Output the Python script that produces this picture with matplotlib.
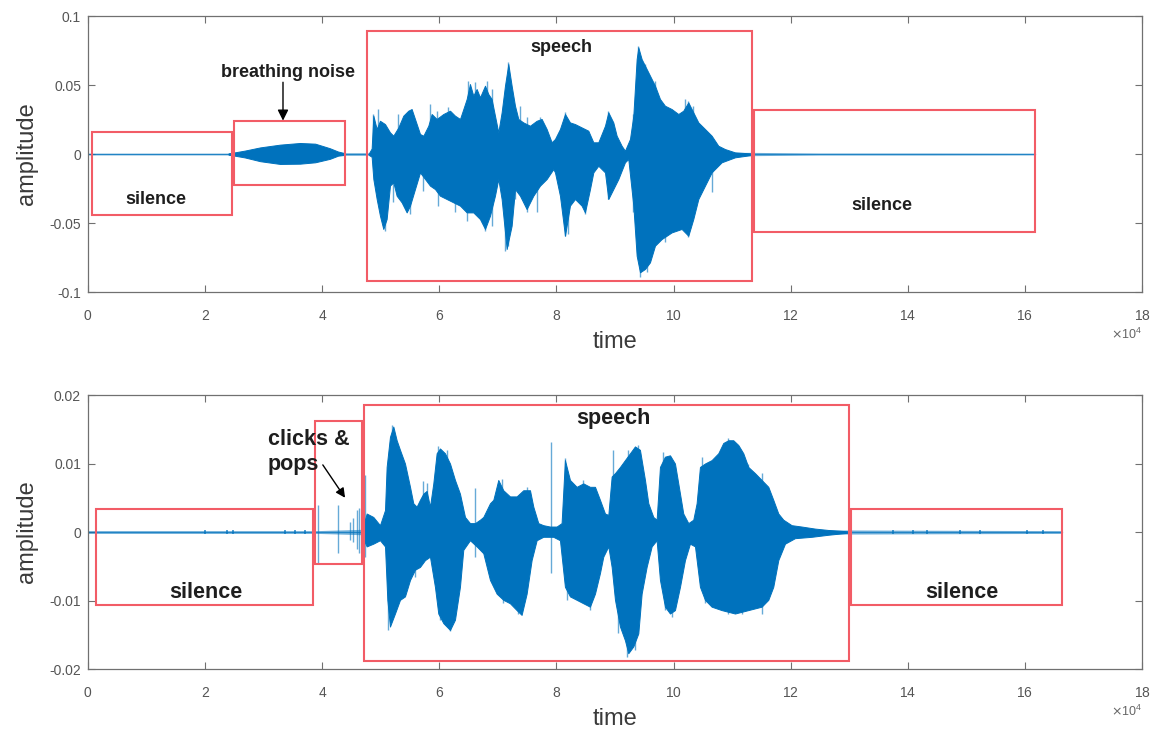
import numpy as np
import matplotlib
matplotlib.use("Agg")
import matplotlib.pyplot as plt
from matplotlib.patches import Rectangle
from matplotlib.ticker import ScalarFormatter, FormatStrFormatter

plt.rcParams["font.family"] = ["Liberation Sans", "DejaVu Sans"]
plt.rcParams["axes.unicode_minus"] = False

SCALE = 1e4  # sample positions below are given in units of 10^4 samples
WAVE = "#0072BD"
BOX = "#F25C66"
INK = "#1e1e1e"
AXIS_GREY = "#707070"

# ---------------- recording 1: breathing noise + speech ----------------
top_floor_x = [0.0, 2.4, 4.4, 4.8, 11.34, 12.5, 14.5, 16.17]
top_floor_amp = [0.0006, 0.0006, 0.0009, 0.0009, 0.0012, 0.0007, 0.0007, 0.0006]

top_breath_x = [2.40, 2.48, 2.68, 2.94, 3.28, 3.62, 3.88, 4.13, 4.27, 4.39]
top_breath_hi = [0.0005, 0.0010, 0.0025, 0.0048, 0.0068, 0.0080, 0.0075, 0.0042, 0.0018, 0.0006]
top_breath_lo = [-0.0005, -0.0010, -0.0025, -0.0052, -0.0072, -0.0070, -0.0060, -0.0035, -0.0012, -0.0006]

top_up_x = [4.800, 4.844, 4.873, 4.930, 4.986, 5.072, 5.157, 5.214, 5.300, 5.385, 5.470, 5.527,
            5.584, 5.670, 5.727, 5.812, 5.869, 5.954, 6.068, 6.182, 6.267, 6.353, 6.410, 6.467,
            6.523, 6.580, 6.637, 6.694, 6.780, 6.836, 6.893, 6.950, 7.007, 7.064, 7.121, 7.178,
            7.235, 7.292, 7.349, 7.434, 7.548, 7.662, 7.747, 7.833, 7.918, 7.975, 8.060, 8.146,
            8.231, 8.317, 8.430, 8.544, 8.630, 8.715, 8.829, 8.886, 8.971, 9.028, 9.113, 9.170,
            9.256, 9.313, 9.370, 9.398, 9.455, 9.512, 9.597, 9.683, 9.768, 9.853, 9.967, 10.081,
            10.166, 10.252, 10.337, 10.423, 10.537, 10.650, 10.764, 10.878, 11.049, 11.333]
top_up = [0.0008, 0.0040, 0.0278, 0.0181, 0.0241, 0.0217, 0.0157, 0.0133, 0.0193, 0.0278, 0.0314, 0.0326,
          0.0254, 0.0145, 0.0133, 0.0205, 0.0290, 0.0254, 0.0290, 0.0314, 0.0278, 0.0254, 0.0326, 0.0399,
          0.0507, 0.0423, 0.0471, 0.0411, 0.0495, 0.0435, 0.0399, 0.0278, 0.0157, 0.0302, 0.0495, 0.0652,
          0.0495, 0.0350, 0.0254, 0.0229, 0.0205, 0.0241, 0.0254, 0.0181, 0.0085, 0.0109, 0.0181, 0.0290,
          0.0229, 0.0217, 0.0193, 0.0169, 0.0085, 0.0085, 0.0205, 0.0302, 0.0229, 0.0133, 0.0060, 0.0024,
          0.0109, 0.0278, 0.0688, 0.0773, 0.0688, 0.0640, 0.0568, 0.0495, 0.0399, 0.0350, 0.0326, 0.0290,
          0.0314, 0.0374, 0.0302, 0.0229, 0.0181, 0.0133, 0.0060, 0.0036, 0.0012, 0.0004]

top_lo_x = [4.800, 4.844, 4.873, 4.930, 4.986, 5.043, 5.100, 5.157, 5.214, 5.271, 5.356, 5.442,
            5.499, 5.584, 5.670, 5.755, 5.840, 5.926, 6.011, 6.125, 6.239, 6.353, 6.467, 6.580,
            6.694, 6.780, 6.865, 6.950, 7.007, 7.064, 7.150, 7.235, 7.292, 7.377, 7.491, 7.605,
            7.719, 7.833, 7.947, 7.975, 8.060, 8.146, 8.231, 8.317, 8.430, 8.487, 8.573, 8.630,
            8.715, 8.829, 8.886, 8.971, 9.057, 9.170, 9.227, 9.313, 9.370, 9.427, 9.512, 9.597,
            9.683, 9.797, 9.967, 10.138, 10.252, 10.337, 10.423, 10.537, 10.650, 10.821, 11.049, 11.333]
top_lo = [-0.0008, -0.0020, -0.0181, -0.0326, -0.0447, -0.0543, -0.0471, -0.0229, -0.0205, -0.0302, -0.0350, -0.0423,
          -0.0374, -0.0254, -0.0133, -0.0181, -0.0229, -0.0254, -0.0302, -0.0326, -0.0350, -0.0374, -0.0423, -0.0423,
          -0.0471, -0.0543, -0.0447, -0.0302, -0.0181, -0.0326, -0.0688, -0.0519, -0.0254, -0.0302, -0.0399, -0.0302,
          -0.0229, -0.0181, -0.0109, -0.0133, -0.0302, -0.0592, -0.0374, -0.0326, -0.0374, -0.0423, -0.0254, -0.0133,
          -0.0085, -0.0133, -0.0326, -0.0254, -0.0181, -0.0060, -0.0036, -0.0374, -0.0737, -0.0857, -0.0833, -0.0785,
          -0.0664, -0.0616, -0.0568, -0.0543, -0.0592, -0.0471, -0.0326, -0.0229, -0.0133, -0.0060, -0.0024, -0.0007]

top_spike_x = [4.873, 4.958, 5.300, 5.840, 5.954, 6.153, 6.495, 6.609, 6.808, 6.893, 7.178, 7.377,
               7.491, 7.719, 8.146, 8.886, 9.313, 9.398, 9.512, 9.683, 10.195, 10.252, 10.337,
               5.072, 5.214, 5.499, 5.727, 5.982, 6.267, 6.467, 6.780, 6.893, 7.121, 7.178, 7.292,
               7.491, 7.662, 8.146, 8.203, 8.487, 8.886, 9.313, 9.427, 9.540, 9.853, 10.252, 10.650]
top_spike_y = [0.0290, 0.0326, 0.0290, 0.0362, 0.0314, 0.0338, 0.0531, 0.0519, 0.0531, 0.0471, 0.0664, 0.0350,
               0.0266, 0.0266, 0.0302, 0.0314, 0.0290, 0.0785, 0.0652, 0.0531, 0.0399, 0.0386, 0.0350,
               -0.0556, -0.0350, -0.0435, -0.0266, -0.0374, -0.0423, -0.0483, -0.0556, -0.0519, -0.0700, -0.0664, -0.0326,
               -0.0423, -0.0423, -0.0592, -0.0580, -0.0435, -0.0326, -0.0423, -0.0894, -0.0857, -0.0640, -0.0604, -0.0278]

top_yticks = [-0.1, -0.05, 0, 0.05, 0.1]

top_boxes_x0 = [0.07, 2.49, 4.76, 11.37]
top_boxes_x1 = [2.46, 4.39, 11.34, 16.17]
top_boxes_y0 = [-0.044, -0.0225, -0.092, -0.0565]
top_boxes_y1 = [0.016, 0.024, 0.089, 0.032]

top_labels = ["silence", "breathing noise", "speech", "silence"]
top_label_x = [1.16, 3.42, 8.09, 13.56]
top_label_y = [-0.0326, 0.0594, 0.0775, -0.037]

# ---------------- recording 2: clicks & pops + speech ----------------
bot_floor_x = [0.0, 3.9, 4.7, 13.0, 16.63]
bot_floor_amp = [0.0002, 0.0002, 0.0004, 0.0003, 0.0002]

bot_up_x = [4.680, 4.702, 4.759, 4.872, 4.986, 5.072, 5.100, 5.157, 5.214, 5.271, 5.328, 5.413,
            5.499, 5.555, 5.612, 5.669, 5.726, 5.783, 5.840, 5.897, 5.954, 6.011, 6.096, 6.182,
            6.267, 6.352, 6.438, 6.523, 6.609, 6.694, 6.751, 6.865, 6.922, 7.007, 7.092, 7.206,
            7.320, 7.434, 7.548, 7.605, 7.690, 7.775, 7.889, 8.003, 8.088, 8.145, 8.231, 8.345,
            8.458, 8.572, 8.658, 8.743, 8.829, 8.886, 8.943, 9.000, 9.085, 9.170, 9.256, 9.341,
            9.426, 9.512, 9.569, 9.654, 9.711, 9.768, 9.853, 9.939, 10.024, 10.110, 10.166, 10.252,
            10.337, 10.394, 10.451, 10.536, 10.650, 10.764, 10.849, 10.935, 11.020, 11.106, 11.191,
            11.276, 11.390, 11.504, 11.618, 11.703, 11.789, 11.874, 12.016, 12.187, 12.415, 12.642, 12.984]
bot_up = [0.0003, 0.0010, 0.0027, 0.0022, 0.0010, 0.0032, 0.0095, 0.0139, 0.0154, 0.0134, 0.0120, 0.0100,
          0.0066, 0.0042, 0.0037, 0.0047, 0.0056, 0.0060, 0.0037, 0.0071, 0.0115, 0.0122, 0.0115, 0.0100,
          0.0076, 0.0056, 0.0022, 0.0013, 0.0013, 0.0018, 0.0022, 0.0042, 0.0047, 0.0076, 0.0061, 0.0052,
          0.0052, 0.0061, 0.0061, 0.0037, 0.0013, 0.0010, 0.0008, 0.0008, 0.0013, 0.0105, 0.0076, 0.0066,
          0.0071, 0.0066, 0.0066, 0.0047, 0.0027, 0.0025, 0.0081, 0.0086, 0.0095, 0.0105, 0.0115, 0.0125,
          0.0120, 0.0076, 0.0042, 0.0022, 0.0018, 0.0095, 0.0110, 0.0112, 0.0100, 0.0056, 0.0027, 0.0013,
          0.0018, 0.0042, 0.0095, 0.0100, 0.0105, 0.0115, 0.0130, 0.0134, 0.0134, 0.0127, 0.0115,
          0.0095, 0.0086, 0.0076, 0.0066, 0.0047, 0.0027, 0.0018, 0.0010, 0.0008, 0.0005, 0.0003, 0.0001]

bot_lo_x = [4.680, 4.702, 4.759, 4.872, 4.986, 5.072, 5.112, 5.157, 5.242, 5.328, 5.413, 5.499,
            5.584, 5.669, 5.755, 5.840, 5.925, 5.982, 6.068, 6.182, 6.267, 6.352, 6.409, 6.523,
            6.637, 6.751, 6.865, 6.979, 7.092, 7.206, 7.320, 7.405, 7.491, 7.576, 7.662, 7.775,
            7.946, 8.060, 8.145, 8.231, 8.345, 8.458, 8.572, 8.658, 8.743, 8.800, 8.886, 8.943,
            9.000, 9.085, 9.170, 9.227, 9.313, 9.398, 9.455, 9.540, 9.626, 9.711, 9.768, 9.853,
            9.939, 10.024, 10.110, 10.195, 10.280, 10.366, 10.451, 10.536, 10.650, 10.821, 11.049,
            11.276, 11.504, 11.618, 11.703, 11.789, 11.903, 12.073, 12.358, 12.642, 12.984]
bot_lo = [-0.0003, -0.0010, -0.0021, -0.0017, -0.0012, -0.0021, -0.0099, -0.0138, -0.0119, -0.0099, -0.0094, -0.0070,
          -0.0055, -0.0051, -0.0041, -0.0036, -0.0080, -0.0119, -0.0133, -0.0143, -0.0128, -0.0080, -0.0026, -0.0012,
          -0.0021, -0.0031, -0.0070, -0.0090, -0.0099, -0.0104, -0.0114, -0.0121, -0.0090, -0.0041, -0.0012, -0.0007,
          -0.0007, -0.0012, -0.0080, -0.0094, -0.0099, -0.0104, -0.0109, -0.0090, -0.0060, -0.0036, -0.0021, -0.0051,
          -0.0099, -0.0138, -0.0158, -0.0177, -0.0167, -0.0148, -0.0090, -0.0051, -0.0021, -0.0012, -0.0070, -0.0109,
          -0.0119, -0.0114, -0.0080, -0.0041, -0.0017, -0.0021, -0.0080, -0.0099, -0.0109, -0.0114, -0.0119,
          -0.0114, -0.0109, -0.0099, -0.0080, -0.0041, -0.0017, -0.0009, -0.0007, -0.0004, -0.0001]

bot_spike_x = [3.93, 3.93, 4.27, 4.27, 4.47, 4.47, 4.53, 4.53, 4.59, 4.59, 4.63, 4.63, 4.73, 4.73,
               5.186, 5.726, 5.783, 5.982, 6.125, 6.609, 7.064, 7.491, 7.906, 8.145, 8.458, 8.971,
               9.227, 9.398, 9.825, 10.480, 10.935, 11.276, 11.504,
               5.129, 5.584, 6.011, 6.182, 6.609, 7.092, 7.349, 7.906, 8.174, 8.572, 9.056, 9.199,
               9.341, 9.853, 9.967, 10.536, 10.935, 11.162, 11.504]
bot_spike_y = [0.0039, -0.0045, 0.0039, -0.0030, 0.0015, -0.0012, 0.0020, -0.0015, 0.0032, -0.0025,
               0.0035, -0.0030, 0.0083, -0.0036,
               0.0156, 0.0074, 0.0071, 0.0125, 0.0120, 0.0064, 0.0078, 0.0066, 0.0132, 0.0108, 0.0076, 0.0120,
               0.0120, 0.0127, 0.0117, 0.0110, 0.0137, 0.0100, 0.0086,
               -0.0143, -0.0065, -0.0128, -0.0145, -0.0036, -0.0104, -0.0119, -0.0060, -0.0099, -0.0114, -0.0148, -0.0182,
               -0.0172, -0.0114, -0.0124, -0.0104, -0.0119, -0.0119, -0.0119]

bot_blip_x = [2.00, 2.37, 2.47, 3.37, 3.54, 3.71, 13.75, 14.09, 14.33, 14.89, 15.23, 16.03, 16.31]
bot_blip_amp = [0.0003, 0.0003, 0.0003, 0.0003, 0.0003, 0.0003, 0.0003, 0.0003, 0.0003, 0.0003, 0.0003, 0.0003, 0.0003]

bot_yticks = [-0.02, -0.01, 0, 0.01, 0.02]

bot_boxes_x0 = [0.14, 3.88, 4.71, 13.03]
bot_boxes_x1 = [3.84, 4.68, 13.00, 16.63]
bot_boxes_y0 = [-0.0107, -0.0047, -0.0188, -0.0107]
bot_boxes_y1 = [0.0034, 0.0162, 0.0185, 0.0034]

bot_labels = ["silence", "speech", "silence"]
bot_label_x = [2.01, 8.97, 14.93]
bot_label_y = [-0.0088, 0.0166, -0.0089]

xticks = [0, 2, 4, 6, 8, 10, 12, 14, 16, 18]


def sx(values):
    return np.asarray(values, dtype=float) * SCALE


def draw_floor(ax, floor_x, floor_amp):
    fx = sx(floor_x)
    famp = np.asarray(floor_amp)
    ax.fill_between(fx, -famp, famp, color=WAVE, alpha=0.55, lw=0)
    ax.plot(fx, np.zeros_like(fx), color=WAVE, lw=0.9, alpha=0.7)


def draw_half(ax, x, y):
    ax.fill_between(sx(x), 0, y, color=WAVE, lw=0.7, edgecolor=WAVE)


def draw_spikes(ax, x, y):
    ax.vlines(sx(x), 0, y, color=WAVE, lw=1.0, alpha=0.6)


def style_axes(ax, yticks, ylim):
    ax.set_xlim(0, 18 * SCALE)
    ax.set_ylim(*ylim)
    ax.set_xticks(sx(xticks))
    ax.set_yticks(yticks)
    fmt = ScalarFormatter(useMathText=True)
    fmt.set_powerlimits((4, 4))
    ax.xaxis.set_major_formatter(fmt)
    ax.yaxis.set_major_formatter(FormatStrFormatter("%g"))
    ax.tick_params(direction="in", top=True, right=True, length=5, width=0.8,
                   color=AXIS_GREY, labelcolor="#555555", labelsize=10)
    ax.tick_params(axis="x", pad=12)
    ax.tick_params(axis="y", pad=5)
    ax.xaxis.get_offset_text().set_fontsize(9)
    ax.xaxis.get_offset_text().set_color("#666666")
    for sp in ax.spines.values():
        sp.set_color(AXIS_GREY)
        sp.set_linewidth(0.9)
    ax.set_ylabel("amplitude", fontsize=17, color="#3a3a3a", labelpad=8)
    ax.set_xlabel("time", fontsize=17, color="#3a3a3a", labelpad=6)


def draw_boxes(ax, x0s, x1s, y0s, y1s):
    for x0, x1, y0, y1 in zip(x0s, x1s, y0s, y1s):
        ax.add_patch(Rectangle((x0 * SCALE, y0), (x1 - x0) * SCALE, y1 - y0,
                               fill=False, edgecolor=BOX, lw=1.5, zorder=4))


fig = plt.figure(figsize=(11.52, 7.31), dpi=100)
fig.patch.set_facecolor("white")

ax1 = fig.add_axes([0.0764, 0.6005, 0.9149, 0.3776])
ax2 = fig.add_axes([0.0764, 0.0848, 0.9149, 0.3748])

# recording 1
draw_floor(ax1, top_floor_x, top_floor_amp)
ax1.fill_between(sx(top_breath_x), top_breath_lo, top_breath_hi, color=WAVE, lw=0.7, edgecolor=WAVE)
draw_half(ax1, top_up_x, top_up)
draw_half(ax1, top_lo_x, top_lo)
draw_spikes(ax1, top_spike_x, top_spike_y)
style_axes(ax1, top_yticks, (-0.1, 0.1))
draw_boxes(ax1, top_boxes_x0, top_boxes_x1, top_boxes_y0, top_boxes_y1)
for t, x, y in zip(top_labels, top_label_x, top_label_y):
    ax1.text(x * SCALE, y, t, ha="center", va="center", fontsize=13,
             fontweight="bold", color=INK, zorder=5)
ax1.annotate("", xy=(3.33 * SCALE, 0.0242), xytext=(3.33 * SCALE, 0.052),
             arrowprops=dict(arrowstyle="-|>", color="black", lw=1.0,
                             mutation_scale=16, shrinkA=0, shrinkB=0), zorder=6)

# recording 2
draw_floor(ax2, bot_floor_x, bot_floor_amp)
draw_half(ax2, bot_up_x, bot_up)
draw_half(ax2, bot_lo_x, bot_lo)
draw_spikes(ax2, bot_spike_x, bot_spike_y)
ax2.vlines(sx(bot_blip_x), -np.asarray(bot_blip_amp), bot_blip_amp, color=WAVE, lw=1.2, alpha=0.8)
style_axes(ax2, bot_yticks, (-0.02, 0.02))
draw_boxes(ax2, bot_boxes_x0, bot_boxes_x1, bot_boxes_y0, bot_boxes_y1)
for t, x, y in zip(bot_labels, bot_label_x, bot_label_y):
    ax2.text(x * SCALE, y, t, ha="center", va="center", fontsize=15.5,
             fontweight="bold", color=INK, zorder=5)
ax2.text(3.07 * SCALE, 0.01175, "clicks &\npops", ha="left", va="center",
         fontsize=15.5, fontweight="bold", color=INK, linespacing=1.25, zorder=5)
ax2.annotate("", xy=(4.39 * SCALE, 0.0050), xytext=(4.01 * SCALE, 0.0098),
             arrowprops=dict(arrowstyle="-|>", color="black", lw=1.0,
                             mutation_scale=14, shrinkA=0, shrinkB=0), zorder=6)

fig.savefig("out.png", dpi=100, facecolor="white")
